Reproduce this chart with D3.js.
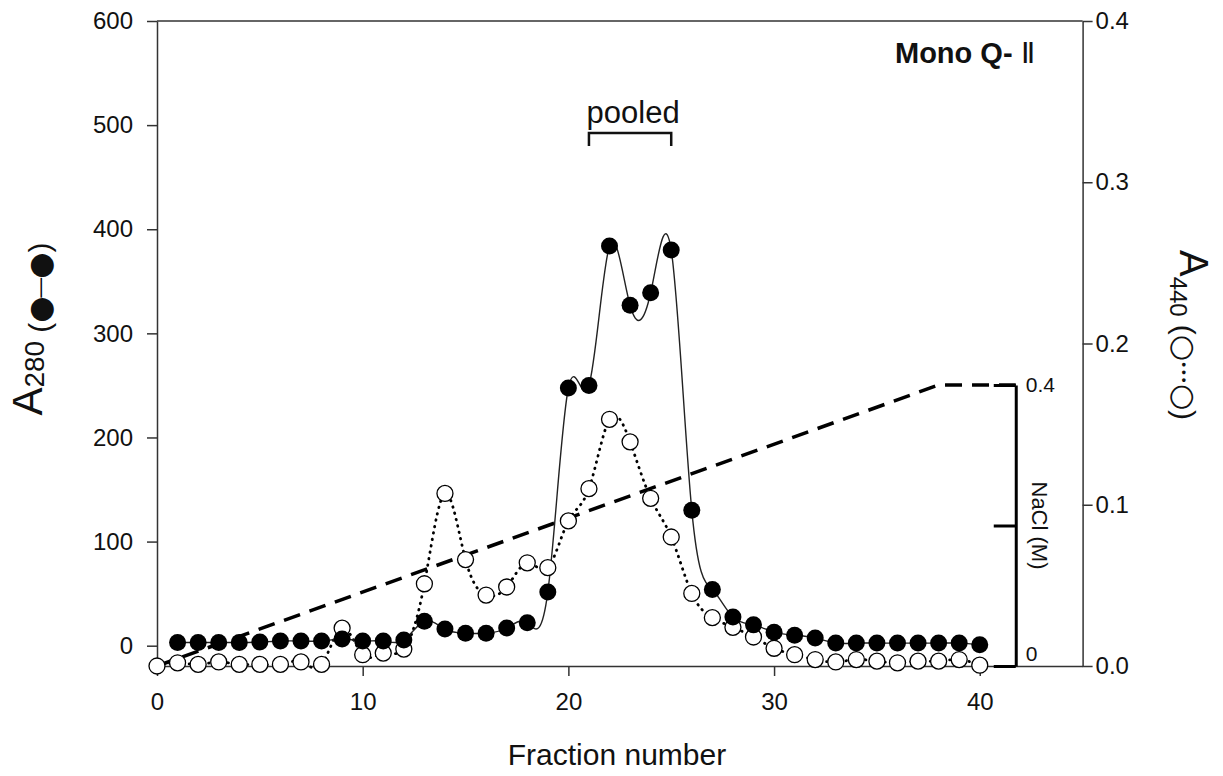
<!DOCTYPE html>
<html>
<head>
<meta charset="utf-8">
<script src="https://cdn.jsdelivr.net/npm/d3@7/dist/d3.min.js"></script>
<style>
  body { margin: 0; background: #fff; }
  text { font-family: Arial, "Liberation Sans", sans-serif; fill: #111; }
</style>
</head>
<body>
<div id="chart"></div>
<script>
// fraction numbers and absorbance readings
const fractionsA280 = [1,2,3,4,5,6,7,8,9,10,11,12,13,14,15,16,17,18,19,20,21,22,23,24,25,26,27,28,29,30,31,32,33,34,35,36,37,38,39,40];
const a280 = [3,3,3,3,3.5,4.5,4.5,4.5,6.5,4.5,4.5,5.5,23.5,16,12,12,17,22,51.5,247.5,250,384,327,339,380,130,54,27.5,20,13,10,7.5,2.5,2.5,2.5,2.5,2.5,2.5,2.5,1];

const fractionsA440 = [0,1,2,3,4,5,6,7,8,9,10,11,12,13,14,15,16,17,18,19,20,21,22,23,24,25,26,27,28,29,30,31,32,33,34,35,36,37,38,39,40];
const a440 = [0,0.002,0.001,0.0025,0.001,0.001,0.001,0.0025,0.001,0.0235,0.007,0.008,0.0105,0.051,0.107,0.066,0.044,0.049,0.064,0.061,0.090,0.110,0.153,0.139,0.104,0.080,0.045,0.030,0.024,0.018,0.011,0.007,0.004,0.0025,0.004,0.003,0.002,0.003,0.003,0.004,0.0005];

// NaCl gradient
const gradientFraction = [0, 38, 41.75];
const gradientNaCl = [0, 0.4, 0.4];

// ticks
const xTicks = [0, 10, 20, 30, 40];
const leftTicks = [0, 100, 200, 300, 400, 500, 600];
const rightTicks = [0, 0.1, 0.2, 0.3, 0.4];
const naclTicks = [0, 0.2, 0.4];
const pooledRange = [21, 25];

const width = 1223;
const height = 776;

const svg = d3.select('#chart')
  .append('svg')
  .attr('width', width)
  .attr('height', height);

const x = d3.scaleLinear().domain([0, 45]).range([157, 1082.6]);
const yL = d3.scaleLinear().domain([-19.5, 600]).range([666, 21]);
const yR = d3.scaleLinear().domain([0, 0.4]).range([666, 21]);
const yNa = d3.scaleLinear().domain([0, 0.4]).range([666, 385]);

const axisColor = '#333';

// bottom axis
const gx = svg.append('g')
  .attr('transform', `translate(0,${yL.range()[0]})`)
  .call(d3.axisBottom(x).tickValues(xTicks).tickSize(10).tickSizeOuter(0).tickPadding(17));
// left axis
const gl = svg.append('g')
  .attr('transform', `translate(${x(0)},0)`)
  .call(d3.axisLeft(yL).tickValues(leftTicks).tickSize(10).tickSizeOuter(0).tickPadding(14));
// right axis
const gr = svg.append('g')
  .attr('transform', `translate(${x(45)},0)`)
  .call(d3.axisRight(yR).tickValues(rightTicks).tickFormat(d3.format('.1f')).tickSize(10).tickSizeOuter(0).tickPadding(3));

[gx, gl, gr].forEach(g => {
  g.selectAll('path,line').attr('stroke', axisColor).attr('stroke-width', 1.5);
  g.selectAll('text').attr('font-size', 24).attr('font-family', 'Arial, "Liberation Sans", sans-serif').attr('fill', '#111');
});

// top border
svg.append('line')
  .attr('x1', x(0)).attr('x2', x(45))
  .attr('y1', yL(600)).attr('y2', yL(600))
  .attr('stroke', axisColor).attr('stroke-width', 1.5);

// NaCl axis
const gn = svg.append('g')
  .attr('transform', `translate(${x(41.75)},0)`)
  .call(d3.axisRight(yNa).tickValues(naclTicks).tickSize(-22).tickSizeOuter(0).tickPadding(10)
    .tickFormat(d => d === 0.2 ? '' : d3.format('~g')(d)));
gn.selectAll('path,line').attr('stroke', '#000').attr('stroke-width', 3);
gn.selectAll('text').attr('font-size', 21).attr('fill', '#222')
  .attr('dy', d => d === 0 ? '-0.25em' : '0.32em');

svg.append('text')
  .attr('transform', `translate(${x(41.75) + 16},${yNa(0.2)}) rotate(90)`)
  .attr('text-anchor', 'middle')
  .attr('font-size', 22)
  .attr('fill', '#222')
  .text('NaCl (M)');

// gradient dashed line
svg.append('path')
  .datum(gradientFraction.map((f, i) => [f, gradientNaCl[i]]))
  .attr('fill', 'none')
  .attr('stroke', '#000')
  .attr('stroke-width', 3.5)
  .attr('stroke-dasharray', '17,10')
  .attr('d', d3.line().x(d => x(d[0])).y(d => yNa(d[1])));

// A440 dotted spline
svg.append('path')
  .datum(fractionsA440.map((f, i) => [f, a440[i]]))
  .attr('fill', 'none')
  .attr('stroke', '#000')
  .attr('stroke-width', 2.8)
  .attr('stroke-linecap', 'round')
  .attr('stroke-dasharray', '0.5,6')
  .attr('d', d3.line().curve(d3.curveNatural).x(d => x(d[0])).y(d => yR(d[1])));

// A280 solid spline
svg.append('path')
  .datum(fractionsA280.map((f, i) => [f, a280[i]]))
  .attr('fill', 'none')
  .attr('stroke', '#222')
  .attr('stroke-width', 1.4)
  .attr('d', d3.line().curve(d3.curveNatural).x(d => x(d[0])).y(d => yL(d[1])));

// A440 open circles
svg.append('g').selectAll('circle')
  .data(fractionsA440.map((f, i) => [f, a440[i]]))
  .enter()
  .append('circle')
  .attr('cx', d => x(d[0]))
  .attr('cy', d => yR(d[1]))
  .attr('r', 8)
  .attr('fill', '#fff')
  .attr('stroke', '#000')
  .attr('stroke-width', 1.3);

// A280 filled circles
svg.append('g').selectAll('circle')
  .data(fractionsA280.map((f, i) => [f, a280[i]]))
  .enter()
  .append('circle')
  .attr('cx', d => x(d[0]))
  .attr('cy', d => yL(d[1]))
  .attr('r', 8.5)
  .attr('fill', '#000');

// pooled bracket
svg.append('path')
  .attr('d', `M${x(pooledRange[0])},146V133H${x(pooledRange[1])}V146`)
  .attr('fill', 'none')
  .attr('stroke', '#111')
  .attr('stroke-width', 2.5);
svg.append('text')
  .attr('x', x(23) + 3)
  .attr('y', 123)
  .attr('text-anchor', 'middle')
  .attr('font-size', 31)
  .text('pooled');

// panel title
const title = svg.append('text')
  .attr('x', 895)
  .attr('y', 63)
  .attr('font-size', 29)
  .attr('font-weight', 'bold')
  .text('Mono Q-');
title.append('tspan').attr('dx', 8).attr('font-weight', 'normal').text('Ⅱ');

// x axis title
svg.append('text')
  .attr('x', 617)
  .attr('y', 765)
  .attr('text-anchor', 'middle')
  .attr('font-size', 30)
  .text('Fraction number');

// left axis title
const lt = svg.append('text')
  .attr('transform', 'translate(42,329) rotate(-90)')
  .attr('text-anchor', 'middle');
lt.append('tspan').attr('font-size', 42).text('A');
lt.append('tspan').attr('font-size', 28).attr('dy', 2).text('280');
lt.append('tspan').attr('font-size', 30).attr('dy', 6).attr('dx', 8).text('(');
lt.append('tspan').attr('font-size', 30).attr('font-family', '"DejaVu Sans"').text('●');
lt.append('tspan').attr('font-size', 22).attr('font-family', '"DejaVu Sans"').attr('dx', -2).attr('dy', -3).text('—');
lt.append('tspan').attr('font-size', 30).attr('font-family', '"DejaVu Sans"').attr('dx', -2).attr('dy', 3).text('●');
lt.append('tspan').attr('font-size', 30).text(')');

// right axis title
const rt = svg.append('text')
  .attr('transform', 'translate(1180,335) rotate(90)')
  .attr('text-anchor', 'middle');
rt.append('tspan').attr('font-size', 40).text('A');
rt.append('tspan').attr('font-size', 24).attr('dy', 10).text('440');
rt.append('tspan').attr('font-size', 30).attr('dy', -4).attr('dx', 8).text('(');
rt.append('tspan').attr('font-size', 30).attr('font-family', '"DejaVu Sans"').text('○');
rt.append('tspan').attr('font-size', 13).attr('font-family', '"DejaVu Sans"').attr('dy', -5).attr('letter-spacing', 0).text('•••');
rt.append('tspan').attr('font-size', 30).attr('font-family', '"DejaVu Sans"').attr('dy', 5).text('○');
rt.append('tspan').attr('font-size', 30).text(')');
</script>
</body>
</html>
